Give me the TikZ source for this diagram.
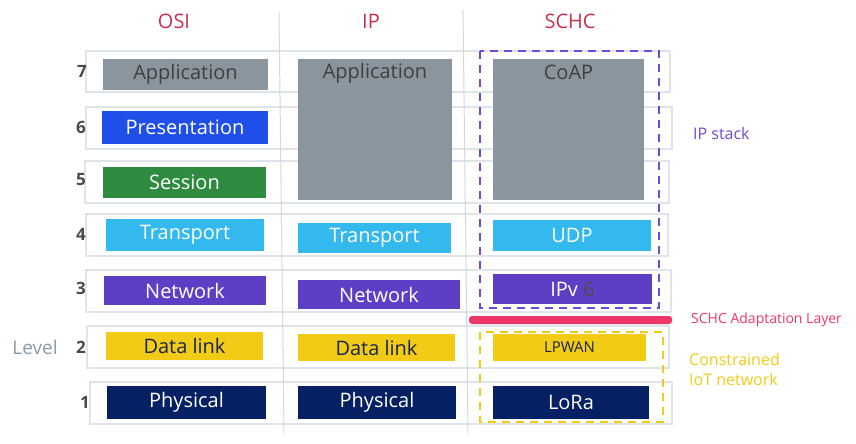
\documentclass[tikz,border=0pt]{standalone}
\usepackage{fontspec}
\setmainfont{Open Sans}
\usetikzlibrary{positioning}

\definecolor{headRed}{HTML}{C8304F}
\definecolor{appGray}{HTML}{8A959E}
\definecolor{presBlue}{HTML}{1F4EE8}
\definecolor{sessGreen}{HTML}{2E8B40}
\definecolor{transCyan}{HTML}{33B9EE}
\definecolor{netPurple}{HTML}{5E3EC4}
\definecolor{linkYellow}{HTML}{F2CB17}
\definecolor{physNavy}{HTML}{062064}
\definecolor{rowGray}{HTML}{DFE3EA}
\definecolor{sepGray}{HTML}{D3D8DF}
\definecolor{stackViolet}{HTML}{6B4BD8}
\definecolor{schcPink}{HTML}{EE3668}
\definecolor{levelGray}{HTML}{8A9AA8}
\definecolor{numGray}{HTML}{4A4A4A}
\definecolor{darkText}{HTML}{3C4046}
\definecolor{linkText}{HTML}{1A2550}

\tikzset{
  layer/.style={ % coloured protocol box
    rectangle, inner sep=0pt, text=white,
    font=\fontsize{20}{24}\selectfont
  },
  tall/.style={ % box spanning levels 5 to 7
    layer, fill=appGray, minimum width=#1, minimum height=141pt
  },
  row/.style={draw=rowGray, line width=1.2pt},
  header/.style={text=headRed, font=\fontsize{20}{24}\selectfont},
  levelnum/.style={text=numGray, font=\bfseries\fontsize{17}{20}\selectfont},
  side/.style={anchor=west, align=left, inner sep=0pt},
  group/.style={dashed, line width=1.6pt, dash pattern=on 8pt off 6pt}
}

\begin{document}
\begin{tikzpicture}[x=1pt, y=-1pt]
  \useasboundingbox (0,0) rectangle (856,444);

  % level rows
  \foreach \l/\t/\r/\b in {86/51/670/92, 86/107/672/149, 85/161/669/203,
      86/214/668/256, 86/270/671/312, 87/326/669/368, 90/382/672/424}
    \draw[row] (\l,\t) rectangle (\r,\b);

  % column separators
  \draw[sepGray, line width=1pt] (279,12) -- (284,433);
  \draw[sepGray, line width=1pt] (463,10) -- (468,433);

  % headers
  \node[header] (osi) at (174,21) {OSI};
  \node[header] (ip) at (371,21) {IP};
  \node[header] (schc) at (570,21) {SCHC};

  % level numbers
  \foreach \n/\x/\y in {7/82/71, 6/81/127, 5/81/180, 4/81/234, 3/81/288, 2/81/347, 1/85/402}
    \node[levelnum] (lvl\n) at (\x,\y) {\n};
  \node[text=levelGray, font=\fontsize{19}{22}\selectfont] (level) at (35,347) {Level};

  % OSI column
  \node[layer, fill=appGray, text=darkText, minimum width=165pt, minimum height=31pt] (osi7) at (185.5,74.5) {Application};
  \node[layer, fill=presBlue, minimum width=166pt, minimum height=33pt] (osi6) at (185,127.5) {Presentation};
  \node[layer, fill=sessGreen, minimum width=163pt, minimum height=31pt] (osi5) at (184.5,182.5) {Session};
  \node[layer, fill=transCyan, minimum width=158pt, minimum height=32pt] (osi4) at (185,235) {Transport};
  \node[layer, fill=netPurple, minimum width=162pt, minimum height=29pt] (osi3) at (185,290.5) {Network};
  \node[layer, fill=linkYellow, text=linkText, minimum width=157pt, minimum height=28pt] (osi2) at (184.5,346) {Data link};
  \node[layer, fill=physNavy, minimum width=159pt, minimum height=33pt] (osi1) at (186.5,402.5) {Physical};

  % IP column
  \node[tall=154pt, label={[anchor=north, inner sep=4pt, text=darkText, font=\fontsize{20}{24}\selectfont]north:Application}] (ipapp) at (375,129.5) {};
  \node[layer, fill=transCyan, minimum width=153pt, minimum height=30pt] (ip4) at (374.5,238) {Transport};
  \node[layer, fill=netPurple, minimum width=162pt, minimum height=29pt] (ip3) at (379,294.5) {Network};
  \node[layer, fill=linkYellow, text=linkText, minimum width=157pt, minimum height=27pt] (ip2) at (376.5,347.5) {Data link};
  \node[layer, fill=physNavy, minimum width=158pt, minimum height=33pt] (ip1) at (377,402.5) {Physical};

  % SCHC column
  \node[tall=151pt, label={[anchor=north, inner sep=6pt, text=darkText, font=\fontsize{20}{24}\selectfont]north:CoAP}] (coap) at (568.5,129.5) {};
  \node[layer, fill=transCyan, minimum width=158pt, minimum height=31pt] (udp) at (572,235.5) {UDP};
  \node[layer, fill=netPurple, minimum width=159pt, minimum height=30pt] (ipv6) at (572.5,289) {IPv {\color{numGray}6}};
  \node[layer, fill=schcPink, rounded corners=3pt, minimum width=203pt, minimum height=8pt] (adapt) at (570.5,320) {};
  \node[layer, fill=linkYellow, text=linkText, font=\fontsize{15}{18}\selectfont, minimum width=153pt, minimum height=27pt] (lpwan) at (569.5,347.5) {LPWAN};
  \node[layer, fill=physNavy, minimum width=156pt, minimum height=33pt] (lora) at (571,402.5) {LoRa};

  % groupings
  \draw[group, stackViolet] (480,51) rectangle (659,308);
  \draw[group, linkYellow] (480,332) rectangle (663,422);

  % side labels
  \node[side, text=stackViolet, font=\fontsize{16}{20}\selectfont] (stacklbl) at (693,133) {IP stack};
  \node[side, text=schcPink, font=\fontsize{14}{17}\selectfont] (adaptlbl) at (691,320) {SCHC Adaptation Layer};
  \node[side, text=linkYellow, font=\fontsize{16}{20}\selectfont] (iotlbl) at (689,369) {Constrained\\IoT network};
\end{tikzpicture}
\end{document}
